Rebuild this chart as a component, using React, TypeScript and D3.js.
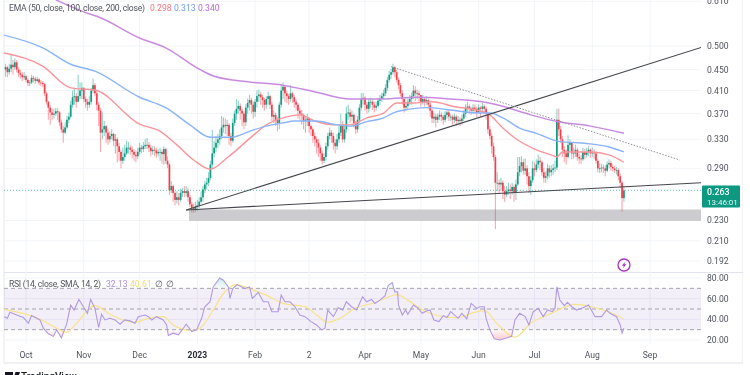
import React from "react";
import * as d3 from "d3";

// candle rows: [close, high, low] per trading day, first row is the 1st listed date of the month
const sep2022 = [[.455,.462,.436],[.445,.458,.435],[.452,.462,.44],[.46,.482,.445],[.455,.47,.44],[.465,.473,.45],[.45,.47,.445],[.443,.455,.435],[.44,.45,.432],[.435,.445,.428],[.437,.445,.43]];
const oct2022 = [[.43,.44,.425],[.424,.433,.418],[.425,.43,.418],[.434,.44,.422],[.432,.438,.425],[.428,.436,.422],[.431,.436,.425],[.425,.433,.42],[.424,.43,.418],[.422,.428,.416],[.405,.424,.4],[.39,.408,.385],[.38,.392,.36],[.372,.385,.352],[.368,.378,.36],[.37,.378,.362],[.374,.38,.366],[.372,.38,.36],[.356,.374,.35],[.345,.36,.34],[.34,.35,.325],[.348,.356,.338],[.36,.366,.345],[.365,.372,.355],[.385,.392,.362],[.398,.41,.38],[.40,.415,.385],[.39,.405,.38],[.40,.44,.39],[.41,.425,.395],[.415,.425,.395]];
const nov2022 = [[.395,.416,.39],[.39,.4,.38],[.385,.395,.375],[.39,.4,.38],[.41,.415,.385],[.42,.432,.405],[.405,.424,.4],[.385,.41,.375],[.375,.39,.35],[.34,.38,.312],[.345,.372,.33],[.35,.358,.335],[.34,.352,.325],[.33,.345,.322],[.335,.342,.325],[.338,.345,.33],[.328,.34,.32],[.33,.338,.31],[.32,.333,.298],[.312,.325,.3],[.30,.315,.29],[.305,.318,.296],[.31,.322,.3],[.318,.328,.308],[.318,.326,.31],[.315,.322,.308],[.312,.32,.303],[.308,.316,.3],[.306,.314,.298],[.312,.318,.302]];
const dec2022 = [[.318,.325,.308],[.316,.322,.31],[.32,.326,.312],[.322,.33,.316],[.322,.332,.316],[.318,.326,.312],[.313,.322,.306],[.315,.32,.308],[.314,.32,.306],[.31,.318,.304],[.312,.316,.306],[.312,.318,.3],[.309,.315,.296],[.316,.32,.295],[.30,.318,.296],[.295,.306,.29],[.263,.297,.258],[.268,.274,.26],[.26,.27,.25],[.252,.262,.246],[.255,.262,.248],[.252,.26,.246],[.26,.265,.25],[.262,.266,.255],[.26,.268,.255],[.262,.268,.256],[.255,.266,.25],[.247,.258,.244],[.243,.25,.238],[.242,.248,.238],[.245,.25,.239]];
const jan2023 = [[.246,.252,.24],[.25,.255,.243],[.255,.262,.248],[.264,.268,.25],[.27,.274,.26],[.272,.278,.264],[.278,.285,.268],[.295,.3,.275],[.31,.344,.29],[.318,.328,.305],[.325,.335,.312],[.33,.338,.318],[.335,.345,.322],[.348,.366,.33],[.352,.364,.34],[.35,.362,.338],[.352,.36,.335],[.335,.355,.322],[.328,.34,.32],[.355,.362,.325],[.37,.375,.35],[.378,.395,.36],[.383,.392,.37],[.375,.387,.36],[.37,.378,.35],[.356,.374,.345],[.38,.386,.35],[.388,.396,.37],[.393,.402,.375],[.385,.397,.37],[.373,.39,.362]];
const feb2023 = [[.39,.395,.365],[.40,.41,.38],[.403,.412,.39],[.398,.408,.385],[.393,.402,.38],[.385,.397,.375],[.395,.4,.378],[.40,.408,.385],[.385,.402,.378],[.365,.39,.358],[.368,.375,.355],[.36,.372,.35],[.355,.365,.342],[.385,.39,.345],[.41,.422,.38],[.417,.425,.395],[.405,.42,.39],[.40,.41,.388],[.395,.404,.385],[.405,.42,.39],[.398,.408,.388],[.39,.402,.38],[.385,.394,.375],[.375,.388,.362],[.37,.38,.36],[.368,.376,.352],[.358,.37,.345],[.36,.366,.34]];
const mar2023 = [[.362,.37,.35],[.35,.364,.34],[.345,.353,.335],[.335,.348,.325],[.33,.34,.32],[.325,.334,.31],[.318,.33,.305],[.31,.322,.3],[.30,.314,.295],[.305,.31,.297],[.32,.325,.3],[.335,.34,.315],[.34,.348,.33],[.335,.344,.325],[.325,.34,.315],[.32,.33,.31],[.33,.338,.315],[.34,.35,.325],[.352,.37,.335],[.33,.358,.325],[.345,.352,.325],[.37,.382,.34],[.372,.385,.36],[.365,.378,.355],[.368,.375,.358],[.355,.37,.348],[.345,.358,.338],[.36,.366,.34],[.38,.386,.355],[.395,.405,.375],[.397,.406,.385]];
const apr2023 = [[.385,.4,.375],[.378,.39,.37],[.39,.396,.372],[.39,.397,.38],[.385,.394,.376],[.38,.39,.372],[.383,.39,.375],[.392,.397,.38],[.395,.402,.385],[.40,.406,.39],[.405,.412,.395],[.415,.422,.4],[.43,.436,.41],[.44,.448,.425],[.445,.452,.432],[.455,.462,.44],[.445,.458,.435],[.43,.45,.425],[.42,.435,.412],[.405,.424,.4],[.395,.41,.385],[.38,.398,.372],[.383,.39,.375],[.39,.396,.378],[.395,.402,.385],[.40,.406,.385],[.41,.42,.395],[.405,.418,.392],[.405,.412,.395],[.402,.41,.39]];
const may2023 = [[.39,.397,.382],[.395,.402,.385],[.39,.398,.382],[.393,.4,.385],[.385,.396,.378],[.375,.388,.365],[.362,.378,.355],[.365,.372,.355],[.36,.37,.348],[.365,.37,.355],[.368,.375,.36],[.365,.372,.358],[.36,.368,.352],[.368,.374,.356],[.372,.378,.362],[.365,.376,.358],[.365,.37,.358],[.36,.368,.352],[.365,.37,.355],[.358,.368,.35],[.36,.366,.352],[.358,.364,.35],[.362,.368,.352],[.37,.376,.358],[.38,.386,.365],[.382,.39,.372],[.378,.386,.37],[.375,.382,.368],[.38,.386,.37],[.378,.386,.37],[.372,.382,.364],[.38,.386,.372]];
const jun2023 = [[.378,.382,.365],[.382,.388,.372],[.378,.386,.37],[.37,.382,.36],[.345,.372,.338],[.335,.35,.33],[.32,.34,.31],[.305,.325,.3],[.272,.308,.2215],[.272,.285,.262],[.27,.276,.26],[.272,.278,.262],[.262,.275,.253],[.258,.268,.25],[.262,.268,.255],[.264,.272,.258],[.262,.27,.253],[.267,.272,.258],[.261,.27,.25],[.27,.276,.252],[.285,.305,.268],[.293,.305,.28],[.298,.306,.285],[.287,.302,.282],[.29,.303,.282],[.28,.294,.27],[.268,.285,.26],[.275,.28,.258],[.29,.3,.272],[.288,.298,.28]];
const jul2023 = [[.295,.302,.285],[.30,.308,.29],[.298,.305,.288],[.285,.3,.28],[.278,.29,.272],[.28,.286,.272],[.29,.296,.276],[.285,.294,.278],[.288,.294,.28],[.29,.296,.282],[.291,.3,.285],[.36,.378,.288],[.345,.378,.335],[.33,.35,.325],[.315,.335,.305],[.31,.32,.298],[.305,.315,.295],[.322,.336,.303],[.325,.33,.312],[.31,.326,.302],[.31,.318,.303],[.315,.322,.305],[.305,.318,.3],[.303,.31,.296],[.302,.308,.296],[.312,.318,.3],[.308,.316,.302],[.312,.318,.304],[.315,.32,.306],[.31,.317,.304],[.312,.318,.305]];
const aug2023 = [[.31,.316,.302],[.30,.313,.296],[.29,.302,.285],[.29,.296,.284],[.291,.296,.285],[.29,.295,.284],[.287,.294,.28],[.295,.299,.285],[.297,.302,.29],[.292,.3,.287],[.29,.295,.286],[.288,.293,.284],[.288,.292,.282],[.28,.29,.275],[.272,.283,.266],[.254,.274,.239],[.263,.268,.25]];

const candleMonths: [string, number[][]][] = [
  ["2022-09-20", sep2022], ["2022-10-01", oct2022], ["2022-11-01", nov2022], ["2022-12-01", dec2022],
  ["2023-01-01", jan2023], ["2023-02-01", feb2023], ["2023-03-01", mar2023], ["2023-04-01", apr2023],
  ["2023-05-01", may2023], ["2023-06-02", jun2023], ["2023-07-02", jul2023], ["2023-08-02", aug2023],
];

// moving averages: [days since 2022-10-01, price]
const ema50 = [[-12,.485],[9,.457],[24,.415],[37,.411],[61,.353],[72,.342],[81,.322],[90,.301],[99,.289],[108,.304],[120,.331],[129,.352],[138,.363],[147,.368],[156,.357],[165,.352],[174,.352],[183,.363],[192,.371],[199,.388],[208,.388],[218,.39],[231,.381],[242,.376],[249,.368],[256,.347],[264,.329],[274,.315],[283,.307],[285,.305],[288,.312],[303,.312],[313,.308],[321,.298]];
const ema100 = [[-12,.525],[9,.496],[24,.461],[37,.447],[61,.398],[75,.38],[88,.352],[99,.333],[110,.333],[120,.342],[129,.35],[138,.355],[144,.358],[156,.358],[165,.353],[174,.35],[183,.357],[192,.363],[197,.371],[205,.377],[215,.38],[228,.376],[242,.371],[249,.371],[256,.363],[265,.347],[274,.339],[286,.327],[301,.324],[313,.319],[321,.312]];
const ema200 = [[16,.614],[31,.582],[40,.567],[61,.518],[75,.496],[93,.451],[101,.437],[120,.426],[138,.42],[156,.407],[174,.395],[192,.395],[210,.398],[228,.395],[245,.39],[254,.384],[271,.368],[286,.357],[303,.35],[321,.339]];

// RSI and its SMA: [days since 2022-10-01, value]
const rsiLine = [[-11.6,42.6],[-10,41],[-8.6,46.8],[-5,44.2],[-1.4,41.7],[1.3,36.2],[3,43.6],[7.5,39.4],[9.3,31.4],[12,26],[14.7,23.5],[16.5,29.8],[19,22],[21.8,35.3],[24,53.8],[25.8,49],[28.4,59.2],[30.8,52.2],[33,45.8],[34.7,59.2],[37,50.6],[39,32.1],[40.6,44.9],[42.4,39.4],[45,41],[47.8,39.4],[50.5,35.3],[53,39.4],[55.8,38.5],[58.5,36.2],[60.3,42.6],[63.9,44.2],[65.7,42.6],[67.5,39.4],[70,42.6],[73.7,39.4],[75.5,34.6],[76.4,24.4],[79,26.6],[81.8,25],[84.5,31.4],[86,35.3],[89,28.2],[91.6,29.8],[94.3,41],[96,52.2],[98.8,57],[100.5,71.4],[104,80],[106,77.8],[108.6,71.4],[109.5,60.2],[111,69.8],[113.4,73.6],[115.8,71.4],[117.6,69.8],[120,71.4],[121.5,60.2],[124.7,66],[127.4,57],[130,57],[132,47.4],[135.4,47.4],[137,63.4],[139,57],[141.7,57],[144.4,52.2],[147,44.2],[149.8,42.6],[153,37.8],[156,34.6],[158.7,29.8],[160.5,31.4],[162,49],[165,42.6],[167.6,51.2],[170,49],[172,57],[174.8,52.2],[177.5,49],[180.7,61.8],[182.9,57],[185.5,59.2],[187.3,55.4],[190,58.6],[192.7,62.7],[194.5,73],[196.6,75.5],[198,66.6],[199.5,66.6],[200,53.8],[202,44.2],[203.8,49],[205,44.9],[208,53.8],[210.6,50.6],[212.7,45.8],[215,48],[216.9,49],[219,39.4],[221.7,37.8],[224,43.6],[226,41.7],[228,47.4],[232,41],[234,45.8],[236.6,40.4],[239,55.4],[242,50.6],[243.7,52.2],[246,52.2],[247,41],[249,29.8],[251.4,21.2],[254.4,20],[258,21.9],[260.7,23.5],[262.5,39.4],[265,45.8],[268,42.6],[270,34.6],[272.3,47.4],[275,50.6],[277.7,42.6],[280,49],[282.5,47.4],[284,50.6],[285,71.4],[286.6,58.6],[289,53.2],[290.7,56.4],[293,52.2],[295.6,49],[299,51.2],[302,53.8],[305.5,42.6],[309,42.6],[311.7,49],[313.5,45.8],[317,42.6],[319,34.6],[320,26.6],[321,31.4]];
const rsiSma = [[-11.6,49.6],[1.3,44.2],[8.4,39.4],[16.5,31.4],[21.8,27.3],[26.3,34.6],[37,53.2],[45,44.9],[52,39.4],[58.5,37.2],[64.8,40.4],[73.7,42.6],[79,34.6],[89,29.2],[93.4,31.4],[100.5,49],[106,65],[113,73.6],[122,68.2],[129,63.4],[138,55.4],[150,52.2],[156,44.2],[162,37.2],[168.5,41],[176.6,50.6],[187,56],[192.7,60.2],[199,64],[205,58.6],[213,49],[224,42.6],[232,41.7],[239,45.8],[246,48.4],[253.5,34.6],[262.5,22.8],[271,36.2],[282,45.8],[295,54.4],[303.6,52.2],[312.6,47.4],[321,40.4]];

const priceTicks = [0.192, 0.21, 0.23, 0.29, 0.33, 0.37, 0.41, 0.45, 0.5, 0.61];
const priceTickLabels = ["0.192", "0.210", "0.230", "0.290", "0.330", "0.370", "0.410", "0.450", "0.500", "0.610"];
const rsiTicks = [20, 40, 60, 80];
const rsiBands = [30, 50, 70];
const timeTicks: [string, string, boolean][] = [["2022-10-01","Oct",false],["2022-11-01","Nov",false],["2022-12-01","Dec",false],["2023-01-01","2023",true],["2023-02-01","Feb",false],["2023-03-02","2",false],["2023-04-01","Apr",false],["2023-05-01","May",false],["2023-06-01","Jun",false],["2023-07-01","Jul",false],["2023-08-01","Aug",false],["2023-09-01","Sep",false]];
const lastPrice = 0.263;
const supportZone = [0.2295, 0.2415];
const trendDates: { id: string; from: [string, number]; to: [string, number]; dash?: string }[] = [
  { id: "up", from: ["2022-12-26", 0.241], to: ["2023-10-01", 0.5] },
  { id: "base", from: ["2022-12-26", 0.241], to: ["2023-10-02", 0.2725] },
  { id: "down", from: ["2023-04-15", 0.456], to: ["2023-09-17", 0.301], dash: "1.5 1.5" },
];

const W = 750, H = 375;
const LEFT = 4, PLOT_R = 701;
const utc = (s: string) => new Date(s + "T00:00:00Z");
const x = d3.scaleUtc().domain([utc("2022-10-01"), utc("2023-09-01")]).range([26, 650]);
const xDay = (d: number) => x(new Date(Date.UTC(2022, 9, 1) + d * 864e5));
const y = d3.scaleLog().domain([0.192, 0.5]).range([261, 46]);
const yr = d3.scaleLinear().domain([20, 80]).range([340, 278]);

const up = "#109c85", down = "#f23f4d";
const FONT = "Roboto, 'Liberation Sans', sans-serif";

const candles = candleMonths.flatMap(([start, rows]) =>
  rows.map((r, i) => ({ date: new Date(utc(start).getTime() + i * 864e5), c: r[0], h: r[1], l: r[2] }))
).map((d, i, all) => ({ ...d, o: i ? all[i - 1].c : d.c * 0.99 }));

const pLine = d3.line<number[]>().x(d => xDay(d[0])).y(d => y(d[1])).curve(d3.curveMonotoneX);
const rLine = d3.line<number[]>().x(d => xDay(d[0])).y(d => yr(d[1]));
const sLine = d3.line<number[]>().x(d => xDay(d[0])).y(d => yr(d[1])).curve(d3.curveMonotoneX);
const obArea = d3.area<number[]>().x(d => xDay(d[0])).y0(yr(70)).y1(d => yr(d[1]))(rsiLine)!;
const osArea = d3.area<number[]>().x(d => xDay(d[0])).y0(yr(30)).y1(d => yr(d[1]))(rsiLine)!;

export default function App() {
  const txt = { fontFamily: FONT, fontSize: 8.6, fill: "#50535e" } as const;
  return (
    <svg width={W} height={H} viewBox={`0 0 ${W} ${H}`} style={{ position: "absolute", left: 0, top: 0, background: "#fff", display: "block" }}>
      <defs>
        <filter id="soft" x="0" y="0" width="100%" height="100%"><feGaussianBlur stdDeviation="0.35" /></filter>
        <clipPath id="plot"><rect x={LEFT} y={0} width={PLOT_R - LEFT} height={272} /></clipPath>
        <clipPath id="above70"><rect x={LEFT} y={0} width={PLOT_R - LEFT} height={yr(70)} /></clipPath>
        <clipPath id="below30"><rect x={LEFT} y={yr(30)} width={PLOT_R - LEFT} height={60} /></clipPath>
        <linearGradient id="osGrad" gradientUnits="userSpaceOnUse" x1="0" x2="0" y1={yr(30)} y2={yr(20)}><stop offset="0" stopColor="#f7525f" stopOpacity="0.02" /><stop offset="1" stopColor="#f7525f" stopOpacity="0.32" /></linearGradient>
        <linearGradient id="obGrad" gradientUnits="userSpaceOnUse" x1="0" x2="0" y1={yr(80)} y2={yr(70)}><stop offset="0" stopColor="#22ab94" stopOpacity="0.25" /><stop offset="1" stopColor="#22ab94" stopOpacity="0.02" /></linearGradient>
      </defs>
      <g filter="url(#soft)">
        {/* frame */}
        <line x1={LEFT} x2={LEFT} y1={0} y2={363} stroke="#e6e8ee" />
        <line x1={743} x2={743} y1={0} y2={363} stroke="#e6e8ee" />
        <line x1={LEFT} x2={743} y1={272.5} y2={272.5} stroke="#e0e3eb" />
        <line x1={LEFT} x2={743} y1={363} y2={363} stroke="#e0e3eb" />
        {/* grids */}
        {priceTicks.map(t => <line key={t} x1={LEFT} x2={PLOT_R} y1={y(t)} y2={y(t)} stroke="#f2f4f8" />)}
        {rsiTicks.map(t => <line key={t} x1={LEFT} x2={PLOT_R} y1={yr(t)} y2={yr(t)} stroke="#f2f4f8" />)}
        {timeTicks.map(([d]) => <line key={d} x1={x(utc(d))} x2={x(utc(d))} y1={0} y2={344} stroke="#f2f4f8" />)}

        <rect x={189} width={PLOT_R - 189} y={y(supportZone[1])} height={y(supportZone[0]) - y(supportZone[1])} fill="#cbcbd0" />
        <line x1={LEFT} x2={PLOT_R} y1={y(lastPrice)} y2={y(lastPrice)} stroke="#22ab94" strokeOpacity={0.7} strokeDasharray="1 2" />

        {/* candles */}
        <g clipPath="url(#plot)">
          {candles.map((d, i) => {
            const col = d.c >= d.o ? up : down;
            const top = y(Math.max(d.o, d.c)), bot = y(Math.min(d.o, d.c));
            return (
              <g key={i}>
                <line x1={x(d.date)} x2={x(d.date)} y1={y(Math.max(d.h, d.o, d.c))} y2={y(Math.min(d.l, d.o, d.c))} stroke={col} strokeOpacity={0.45} strokeWidth={1.1} />
                <rect x={x(d.date) - 0.85} width={1.7} y={top} height={Math.max(bot - top, 0.8)} fill={col} />
              </g>
            );
          })}
          <path d={pLine(ema50)!} fill="none" stroke="#f9959a" strokeWidth={1.4} />
          <path d={pLine(ema100)!} fill="none" stroke="#8ab4f8" strokeWidth={1.4} />
          <path d={pLine(ema200)!} fill="none" stroke="#c98be0" strokeWidth={1.5} />
          {trendDates.map(t => (
            <line key={t.id} x1={x(utc(t.from[0]))} y1={y(t.from[1])} x2={x(utc(t.to[0]))} y2={y(t.to[1])} stroke={t.dash ? "#8b8d94" : "#44464c"} strokeWidth={t.dash ? 1 : 1.1} strokeDasharray={t.dash} />
          ))}
        </g>

        {/* lightning marker */}
        <circle cx={624} cy={265} r={6} fill="#fff" stroke="#a52fc4" strokeWidth={1.3} />
        <path d="M625.5 261.5 L621.8 265.8 L624 265.8 L622.8 268.5 L626.4 264.3 L624.3 264.3 Z" fill="#a52fc4" />

        {/* RSI pane */}
        <rect x={LEFT} width={PLOT_R - LEFT} y={yr(70)} height={yr(30) - yr(70)} fill="#7e57c2" fillOpacity={0.1} />
        {rsiBands.map(t => <line key={t} x1={LEFT} x2={PLOT_R} y1={yr(t)} y2={yr(t)} stroke="#a3a4aa" strokeWidth={1} strokeDasharray="4 3" />)}
        <path d={obArea} fill="url(#obGrad)" clipPath="url(#above70)" />
        <path d={osArea} fill="url(#osGrad)" clipPath="url(#below30)" />
        <path d={sLine(rsiSma)!} fill="none" stroke="#f8e38a" strokeWidth={1.2} />
        <path d={rLine(rsiLine)!} fill="none" stroke="#b09ae2" strokeWidth={1.1} />

        {/* legends */}
        <text x={9} y={11} {...txt} textLength={136} lengthAdjust="spacing">EMA (50, close, 100, close, 200, close)</text>
        <text x={150} y={11} {...txt} fill="#f7777f">0.298</text>
        <text x={174} y={11} {...txt} fill="#6a9cf5">0.313</text>
        <text x={198} y={11} {...txt} fill="#bb68d6">0.340</text>
        <text x={9} y={287} {...txt} textLength={92} lengthAdjust="spacing">RSI (14, close, SMA, 14, 2)</text>
        <text x={106} y={287} {...txt} fill="#a98de0">32.13</text>
        <text x={130} y={287} {...txt} fill="#f5dc6e">40.61</text>
        <text x={155} y={287} {...txt}>∅</text>
        <text x={166} y={287} {...txt}>∅</text>

        {/* axes */}
        {priceTicks.map((t, i) => <text key={t} x={707} y={y(t) + 3} {...txt}>{priceTickLabels[i]}</text>)}
        {rsiTicks.map(t => <text key={t} x={707} y={yr(t) + 3} {...txt}>{t.toFixed(2)}</text>)}
        {timeTicks.map(([d, l, b]) => <text key={d} x={x(utc(d))} y={357.5} textAnchor="middle" {...txt} fontWeight={b ? 700 : 400} fill={b ? "#2a2e39" : "#50535e"}>{l}</text>)}

        {/* last price tag */}
        <rect x={702} y={185.5} width={38} height={22} fill="#089981" rx={1} />
        <text x={707} y={195} fontFamily={FONT} fontSize={8.8} fontWeight={500} fill="#fff">0.263</text>
        <text x={707} y={204.5} fontFamily={FONT} fontSize={8} fill="#e8f6f3">13:46:01</text>

        {/* brand */}
        <path d="M5 372 H13 V381 H9.5 V375 H5 Z M15.5 372 H20 L17 381 H13 Z" fill="#131722" />
        <text x={21} y={379.5} fontFamily={FONT} fontSize={10} fontWeight={500} fill="#131722">TradingView</text>
      </g>
    </svg>
  );
}
